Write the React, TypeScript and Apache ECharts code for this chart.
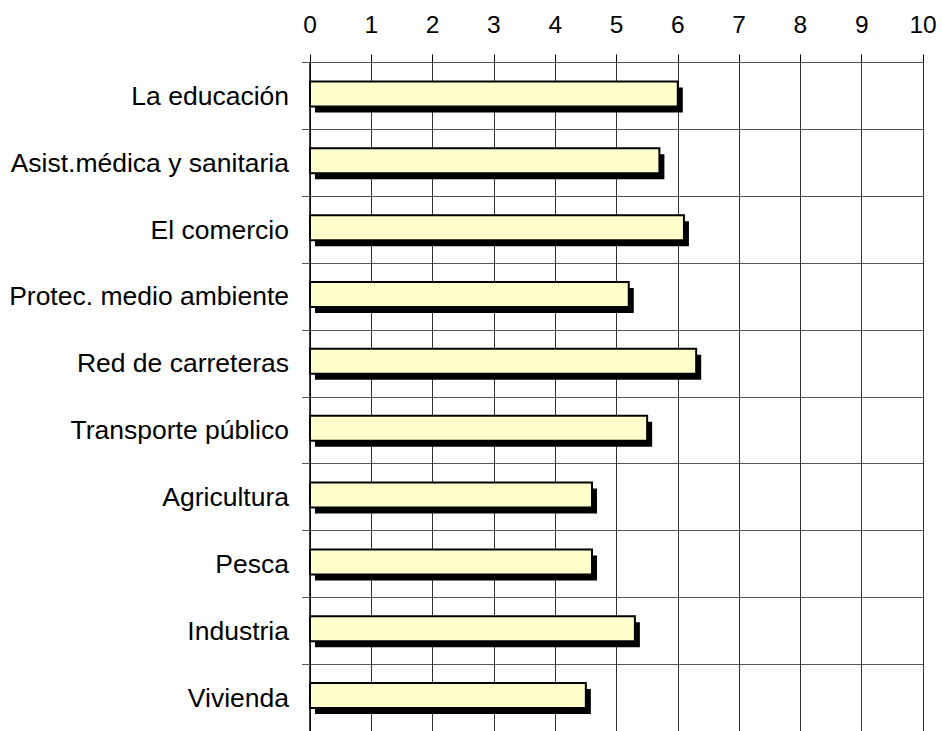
import React, { useEffect, useRef } from "react";
import * as echarts from "echarts";

const categories = [
  "La educación",
  "Asist.médica y sanitaria",
  "El comercio",
  "Protec. medio ambiente",
  "Red de carreteras",
  "Transporte público",
  "Agricultura",
  "Pesca",
  "Industria",
  "Vivienda",
];
const values = [6.0, 5.7, 6.1, 5.2, 6.3, 5.5, 4.6, 4.6, 5.3, 4.5];
const axisMin = 0;
const axisMax = 10;
const axisInterval = 1;

export default function App() {
  const ref = useRef<HTMLDivElement>(null);
  useEffect(() => {
    if (!ref.current) return;
    const chart = echarts.init(ref.current, null, { renderer: "svg" });
    const data = values.map((v, i) => [v, i]);
    chart.setOption({
      animation: false,
      backgroundColor: "#ffffff",
      grid: { left: 310, top: 62.5, width: 613, height: 677, containLabel: false },
      xAxis: {
        type: "value",
        position: "top",
        min: axisMin,
        max: axisMax,
        interval: axisInterval,
        axisLine: { show: false },
        axisTick: { show: true, length: 8, lineStyle: { color: "#000", width: 1 } },
        axisLabel: {
          color: "#000",
          fontSize: 24.5,
          fontFamily: "Liberation Sans, Arial, sans-serif",
          margin: 26,
        },
        splitLine: { show: true, lineStyle: { color: "#333", width: 1 } },
      },
      yAxis: {
        type: "category",
        data: categories,
        inverse: true,
        axisLine: { show: true, lineStyle: { color: "#000", width: 1.5 } },
        axisTick: { show: true, length: 8, lineStyle: { color: "#555", width: 1 } },
        axisLabel: {
          color: "#000",
          fontSize: 26.5,
          fontFamily: "Liberation Sans, Arial, sans-serif",
          margin: 21,
          padding: [0, 0, 4, 0],
        },
        splitLine: { show: true, lineStyle: { color: "#555", width: 1 } },
      },
      series: [
        {
          type: "custom",
          data,
          encode: { x: 0, y: 1 },
          renderItem: (params: any, api: any) => {
            const v = api.value(0);
            const idx = api.value(1);
            const end = api.coord([v, idx]);
            const start = api.coord([0, idx]);
            const h = 25;
            const y = end[1] - 14.5;
            const w = end[0] - start[0];
            return {
              type: "group",
              children: [
                {
                  type: "rect",
                  shape: { x: start[0] + 5, y: y + 6, width: w, height: h },
                  style: { fill: "#000" },
                },
                {
                  type: "rect",
                  shape: { x: start[0], y: y, width: w, height: h },
                  style: { fill: "#FFFFCC", stroke: "#000", lineWidth: 2 },
                },
              ],
            };
          },
        },
      ],
    });
    return () => chart.dispose();
  }, []);
  return (
    <div
      ref={ref}
      style={{ position: "absolute", left: 0, top: 0, width: 942, height: 731 }}
    />
  );
}
